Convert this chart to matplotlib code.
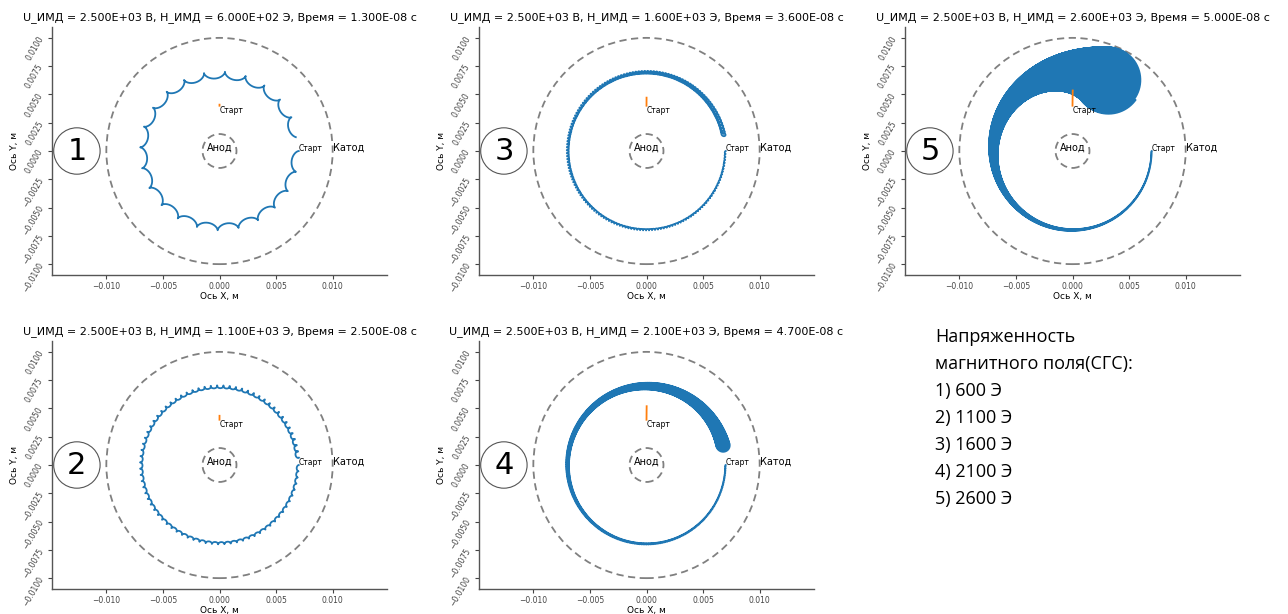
import math

import matplotlib.pyplot as plt
from matplotlib.patches import Circle

# run parameters for each panel
panel_numbers = [1, 2, 3, 4, 5]
U_values = [2500.0, 2500.0, 2500.0, 2500.0, 2500.0]        # V
H_values = [600.0, 1100.0, 1600.0, 2100.0, 2600.0]          # Oe
T_values = [1.3e-8, 2.5e-8, 3.6e-8, 4.7e-8, 5.0e-8]         # s

# diode geometry and particle starts
R_ANODE = 0.0015
R_CATHODE = 0.010
electron_start = (0.007, 0.0)
ion_start = (0.0, 0.004)

Q_M_ELECTRON = -1.758820e11
Q_M_ION = 1.602177e-19 / (28 * 1.660539e-27)
DT_ELECTRON = 1e-13
DT_ION = 1e-11

legend_title = ["Напряженность", "магнитного поля(СГС):"]
legend_lines = [f"{n}) {int(h)} Э" for n, h in zip(panel_numbers, H_values)]


def trace(q_m, U, H, t_end, start, dt):
    """Explicit Euler integration in the radial field of a coaxial diode."""
    B = H * 1e-4
    k = U / math.log(R_CATHODE / R_ANODE)
    x, y = start
    vx = vy = 0.0
    xs, ys = [x], [y]
    ra2, rc2 = R_ANODE ** 2, R_CATHODE ** 2
    for _ in range(int(round(t_end / dt))):
        r2 = x * x + y * y
        e = k / r2
        ax = q_m * (e * x + vy * B)
        ay = q_m * (e * y - vx * B)
        x += vx * dt
        y += vy * dt
        vx += ax * dt
        vy += ay * dt
        xs.append(x)
        ys.append(y)
        if r2 > rc2 or r2 < ra2:
            break
    return xs, ys


fig = plt.figure(figsize=(12.88, 6.14), dpi=100)
W, H_AX = 335 / 1288, 248 / 614
slots = {1: (52, 275), 3: (479, 275), 5: (905, 275), 2: (52, 589), 4: (479, 589)}

for n, U, H, T in zip(panel_numbers, U_values, H_values, T_values):
    left, bottom = slots[n]
    ax = fig.add_axes([left / 1288, 1 - bottom / 614, W, H_AX])

    ex, ey = trace(Q_M_ELECTRON, U, H, T, electron_start, DT_ELECTRON)
    ix, iy = trace(Q_M_ION, U, H, T, ion_start, DT_ION)
    ax.plot(ex[::2], ey[::2], color="#1f77b4", lw=1.3)
    ax.plot(ix, iy, color="#ff7f0e", lw=1.3)

    for r in (R_CATHODE, R_ANODE):
        ax.add_patch(Circle((0, 0), r, fill=False, ec="gray", lw=1.3,
                            ls=(0, (4, 2.5))))

    ax.text(0, 0, "Анод", ha="center", fontsize=7)
    ax.text(R_CATHODE, 0, "Катод", ha="left", fontsize=7)
    ax.text(*electron_start, "Старт", ha="left", fontsize=5.5)
    ax.text(*ion_start, "Старт", ha="left", va="top", fontsize=5.5)

    ax.add_patch(Circle((-0.0126, 0), 0.00205, fill=False, ec="#555555",
                        lw=0.8, clip_on=False))
    ax.text(-0.0126, 0, str(n), ha="center", va="center", fontsize=22)

    ax.set_xlim(-0.0148, 0.0148)
    ax.set_ylim(-0.01096, 0.01096)
    ax.set_xticks([-0.01, -0.005, 0, 0.005, 0.01])
    ax.set_yticks([-0.01, -0.0075, -0.005, -0.0025, 0, 0.0025, 0.005, 0.0075, 0.01])
    ax.tick_params(labelsize=5.5, length=3, width=0.8, colors="#444444", pad=2)
    plt.setp(ax.get_yticklabels(), rotation=60)
    for side in ("top", "right"):
        ax.spines[side].set_visible(False)
    for side in ("left", "bottom"):
        ax.spines[side].set_color("#555555")
        ax.spines[side].set_linewidth(1.0)

    ax.set_xlabel("Ось X, м", fontsize=6.5, labelpad=1)
    ax.set_ylabel("Ось Y, м", fontsize=6.5, labelpad=1)
    ax.set_title(f"U_ИМД = {U:.3E} В, Н_ИМД = {H:.3E} Э, Время = {T:.3E} с",
                 fontsize=8, pad=5)

for i, line in enumerate(legend_title + legend_lines):
    fig.text(935 / 1288, 1 - (342 + 27 * i) / 614, line, fontsize=13,
             family="Open Sans", va="baseline")

fig.savefig("out.png", dpi=100)
